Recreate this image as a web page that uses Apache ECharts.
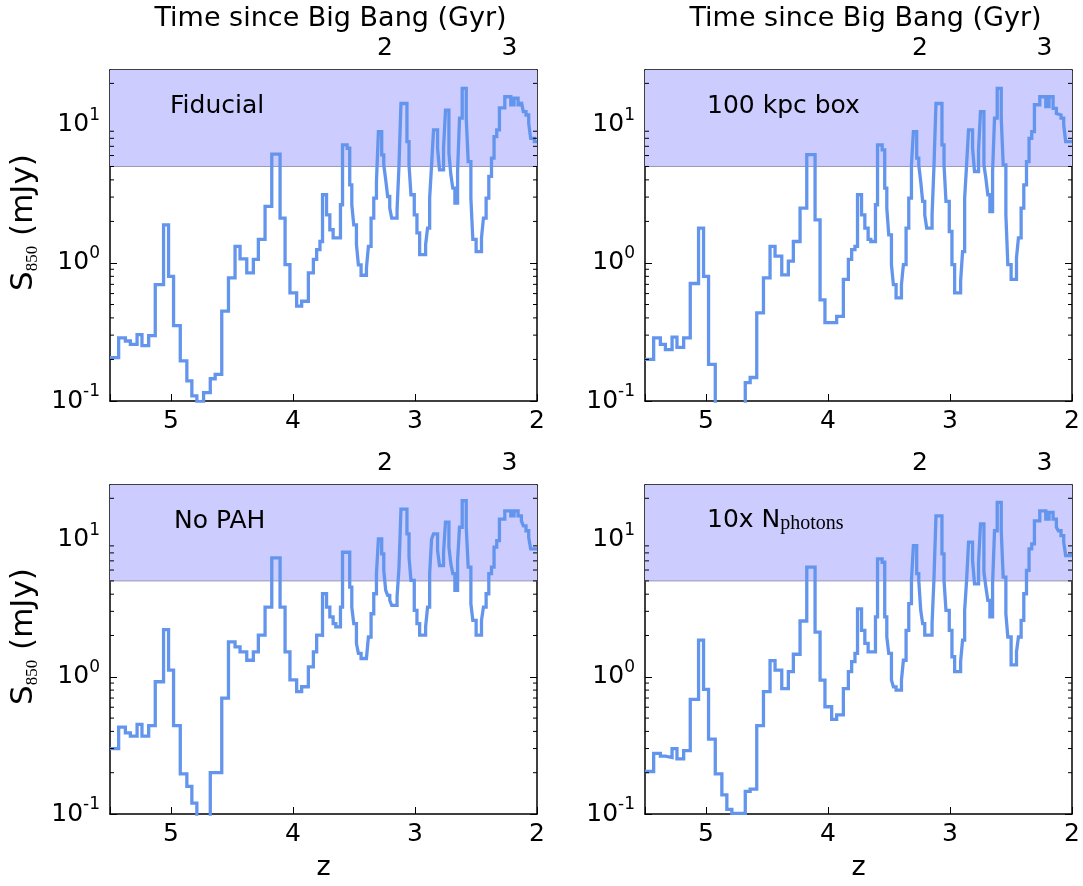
<!DOCTYPE html>
<html><head><meta charset="utf-8">
<script src="https://cdn.jsdelivr.net/npm/echarts@6/dist/echarts.min.js"></script>
<style>html,body{margin:0;padding:0;background:#fff}#c{width:1083px;height:886px}</style>
</head><body><div id="c"></div>
<script>
// ---- data ----
// start redshift of every step (bins shared by all four runs); last bin ends at zEnd
const zEdges = [5.5, 5.429, 5.374, 5.333, 5.278, 5.238, 5.183, 5.129, 5.061, 5.020,
 4.979, 4.924, 4.870, 4.829, 4.788, 4.733, 4.678, 4.638, 4.584, 4.529,
 4.475, 4.434, 4.379, 4.325, 4.284, 4.229, 4.174, 4.106, 4.065, 4.025,
 3.970, 3.929, 3.874, 3.833, 3.806, 3.779, 3.758, 3.725, 3.698, 3.671,
 3.649, 3.611, 3.594, 3.556, 3.535, 3.518, 3.502, 3.480, 3.464, 3.442,
 3.398, 3.382, 3.360, 3.338, 3.316, 3.300, 3.273, 3.256, 3.240, 3.224,
 3.207, 3.191, 3.147, 3.131, 3.115, 3.066, 3.049, 3.033, 3.006, 2.984,
 2.962, 2.913, 2.897, 2.880, 2.864, 2.848, 2.815, 2.799, 2.766, 2.750,
 2.722, 2.706, 2.690, 2.673, 2.651, 2.635, 2.613, 2.580, 2.564, 2.542,
 2.526, 2.499, 2.455, 2.439, 2.417, 2.395, 2.373, 2.352, 2.330, 2.308,
 2.264, 2.215, 2.188, 2.155, 2.128, 2.112, 2.090, 2.068, 2.052, 2.022];
const zEnd = 2.0;

const fiducial = [0.206, 0.287, 0.272, 0.257, 0.303, 0.252, 0.298, 0.697, 1.89, 0.80,
 0.352, 0.195, 0.140, 0.109, 0.099, 0.115, 0.145, 0.156, 0.448, 0.78,
 1.32, 1.07, 0.847, 1.06, 1.48, 2.57, 6.14, 2.11, 0.973, 0.607,
 0.486, 0.528, 0.847, 1.06, 1.25, 1.43, 3.12, 2.23, 1.74, 1.52,
 1.52, 2.64, 7.17, 6.78, 3.68, 2.64, 1.89, 1.36, 0.97, 0.815,
 0.92, 1.32, 2.11, 2.95, 3.89, 8.95, 6.07, 5.14, 4.0, 3.03,
 2.5, 2.11, 2.43, 5.14, 14.3, 7.58, 5.14, 3.12, 2.23, 1.65,
 1.15, 1.36, 1.79, 2.95, 5.14, 9.2, 6.78, 4.73, 6.78, 12.8,
 6.24, 4.35, 3.48, 2.72, 4.6, 11.2, 18.4, 11.2, 5.43, 2.95,
 1.48, 1.21, 1.52, 2.11, 2.95, 4.24, 5.74, 8.24, 9.2, 13.3,
 16.0, 14.0, 15.6, 14.0, 14.7, 12.5, 11.8, 10.3, 8.0, 7.58];

const box100kpc = [0.2, 0.287, 0.257, 0.236, 0.29, 0.245, 0.287, 0.71, 1.79, 0.80,
 0.184, 0.05, 0.05, 0.05, 0.05, 0.05, 0.136, 0.148, 0.435, 0.78,
 1.32, 1.12, 0.82, 1.03, 1.43, 2.5, 6.1, 2.05, 0.54, 0.37,
 0.37, 0.41, 0.76, 1.06, 1.25, 1.32, 3.12, 2.23, 1.79, 1.48,
 1.43, 2.64, 7.17, 6.59, 3.48, 2.5, 1.60, 0.973, 0.697, 0.558,
 0.697, 0.973, 1.79, 2.95, 5.14, 8.95, 5.74, 5.14, 3.89, 2.79,
 2.23, 1.79, 2.23, 5.14, 14.3, 7.17, 5.14, 2.79, 1.69, 0.973,
 0.607, 0.736, 1.21, 2.95, 5.14, 9.2, 6.78, 4.6, 6.59, 12.5,
 5.14, 4.11, 3.12, 2.36, 4.6, 11.2, 18.4, 11.2, 5.14, 2.23,
 0.973, 0.76, 1.09, 1.52, 2.5, 3.68, 5.43, 8.0, 8.95, 14.0,
 16.0, 13.6, 16.0, 13.2, 12.1, 11.8, 11.2, 10.0, 7.58, 7.58];

const noPAH = [0.30, 0.43, 0.39, 0.37, 0.45, 0.37, 0.44, 0.92, 2.21, 1.12,
 0.44, 0.196, 0.159, 0.12, 0.08, 0.08, 0.2, 0.2, 0.70, 1.80,
 1.65, 1.52, 1.32, 1.52, 2.01, 3.22, 7.36, 3.22, 1.52, 0.95,
 0.78, 0.846, 1.18, 1.52, 2.01, 2.0, 4.03, 3.22, 2.73, 2.44,
 2.31, 3.22, 8.09, 8.09, 4.51, 3.22, 2.44, 1.75, 1.48, 1.36,
 1.36, 1.95, 2.88, 4.03, 5.64, 10.1, 7.87, 5.96, 4.27, 3.92,
 3.61, 3.32, 3.81, 6.29, 16.7, 11.0, 7.44, 5.04, 3.05, 2.44,
 2.01, 2.31, 3.22, 5.64, 10.1, 11.0, 8.32, 6.47, 8.09, 13.4,
 8.80, 6.65, 5.64, 4.27, 7.03, 12.3, 19.2, 12.3, 6.29, 3.41,
 2.58, 2.01, 2.58, 3.22, 4.03, 5.64, 6.29, 8.80, 9.84, 14.1,
 16.2, 14.9, 16.2, 14.9, 13.7, 12.6, 11.6, 10.4, 8.55, 8.55];

const photons10x = [0.204, 0.277, 0.264, 0.258, 0.30, 0.252, 0.29, 0.684, 1.85, 0.81,
 0.351, 0.196, 0.138, 0.108, 0.101, 0.101, 0.146, 0.152, 0.44, 0.78,
 1.31, 1.12, 0.82, 1.09, 1.46, 2.55, 6.3, 2.12, 0.946, 0.605,
 0.49, 0.527, 0.82, 1.09, 1.29, 1.48, 3.13, 2.18, 1.75, 1.52,
 1.52, 2.73, 7.24, 6.84, 2.73, 1.95, 1.48, 0.946, 0.845, 0.80,
 0.946, 1.32, 2.18, 3.41, 5.04, 9.04, 5.64, 5.04, 3.05, 2.44,
 2.01, 2.01, 2.44, 5.32, 14.9, 7.87, 5.04, 3.05, 2.18, 1.40,
 1.09, 1.29, 1.85, 3.05, 5.04, 9.57, 7.03, 4.76, 6.84, 13.0,
 5.80, 4.51, 3.61, 2.73, 4.76, 11.6, 18.7, 11.6, 5.32, 2.88,
 1.95, 1.22, 1.52, 1.95, 2.58, 4.03, 5.96, 8.55, 9.31, 13.7,
 16.2, 14.1, 15.8, 14.1, 12.3, 11.6, 10.7, 9.57, 7.65, 7.65];

const panelLabels = ['Fiducial', '100 kpc box', 'No PAH', '{a|10x N}{b|photons}'];
const panelSeries = [fiducial, box100kpc, noPAH, photons10x];
const zTickLabels = [5, 4, 3, 2];
const zMin = 2, zMax = 5.5;
const yMin = 0.1, yMax = 25;
const yMinorTicks = [0.2, 0.3, 0.4, 0.5, 0.6, 0.7, 0.8, 0.9, 2, 3, 4, 5, 6, 7, 8, 9, 20];
const threshold = 5;                 // mJy, shaded detection band
const timeMajorGyr = [2, 3];
const timeMinorGyr = [1.75, 2.25, 2.5, 2.75, 3.25];
const cosmo = { H0: 70, Om: 0.28 };  // flat LCDM for the top time axis

// ---- top time axis: redshift at a given cosmic age ----
function zAtAge(tGyr) {
  const H0 = cosmo.H0 / 977.79, OL = 1 - cosmo.Om;
  const x = Math.sinh(tGyr * 1.5 * H0 * Math.sqrt(OL)) / Math.sqrt(OL / cosmo.Om);
  return Math.pow(x, -2 / 3) - 1;
}
const timeMajorZ = timeMajorGyr.map(zAtAge);
const timeMinorZ = timeMinorGyr.map(zAtAge);

const FONT = 'DejaVu Sans';
const grids = [
  { left: 110, top: 70, width: 427, height: 331 },
  { left: 645, top: 70, width: 427, height: 331 },
  { left: 110, top: 485, width: 427, height: 329 },
  { left: 645, top: 485, width: 427, height: 329 }
];
const labelPos = [[170, 94], [707, 94], [174, 509], [707, 508]];

const frame = { show: true, onZero: false, lineStyle: { color: '#000', width: 1.5 } };
const xAxes = [], yAxes = [], series = [], titles = [];

grids.forEach((g, i) => {
  const isTop = i < 2, isLeft = i % 2 === 0;
  xAxes.push({
    gridIndex: i, type: 'value', position: 'bottom', min: zMin, max: zMax, interval: 1, inverse: true,
    axisLine: frame, splitLine: { show: false },
    axisTick: { inside: true, length: 7, lineStyle: { color: '#000', width: 1 } },
    axisLabel: { color: '#000', fontFamily: FONT, fontSize: 25, margin: 8,
      formatter: v => zTickLabels.includes(v) ? String(v) : '' },
    name: isTop ? '' : 'z', nameLocation: 'middle', nameGap: 40,
    nameTextStyle: { color: '#000', fontFamily: FONT, fontSize: 27 }
  });
  xAxes.push({
    gridIndex: i, type: 'value', position: 'top', min: zMin, max: zMax, inverse: true, offset: 0,
    axisLine: frame, splitLine: { show: false },
    axisTick: { inside: true, length: 7, customValues: timeMajorZ, lineStyle: { color: '#000', width: 1 } },
    axisLabel: { color: '#000', fontFamily: FONT, fontSize: 25, margin: 9, customValues: timeMajorZ,
      formatter: v => { const k = timeMajorZ.findIndex(z => Math.abs(z - v) < 1e-6); return k >= 0 ? String(timeMajorGyr[k]) : ''; } },
    name: isTop ? 'Time since Big Bang (Gyr)' : '', nameLocation: 'middle', nameGap: 38,
    nameTextStyle: { color: '#000', fontFamily: FONT, fontSize: 27, padding: [0, 0, 0, 14] }
  });
  xAxes.push({
    gridIndex: i, type: 'value', position: 'top', min: zMin, max: zMax, inverse: true, offset: 0,
    axisLine: { show: false, onZero: false }, splitLine: { show: false },
    axisTick: { inside: true, length: 4, customValues: timeMinorZ, lineStyle: { color: '#000', width: 1 } },
    axisLabel: { show: false }
  });
  yAxes.push({
    gridIndex: i, type: 'log', logBase: 10, min: yMin, max: yMax, position: 'left',
    axisLine: frame, splitLine: { show: false },
    axisTick: { inside: true, length: 7, lineStyle: { color: '#000', width: 1 } },
    axisLabel: { margin: 10, color: '#000',
      formatter: v => { const e = Math.log10(v), r = Math.round(e); return Math.abs(e - r) < 1e-6 ? '{b|10}{s|' + r + '}' : ''; },
      rich: { b: { fontFamily: FONT, fontSize: 25, lineHeight: 36, color: '#000' },
              s: { fontFamily: FONT, fontSize: 17, lineHeight: 18, verticalAlign: 'top', color: '#000' } } },
    name: isLeft ? '{s|S}{sub|850}{t| (mJy)}' : '', nameLocation: 'middle', nameGap: 69,
    nameTextStyle: { padding: [0, 0, 0, 26], rich: {
      s: { fontFamily: FONT, fontSize: 31, lineHeight: 34, color: '#000' },
      sub: { fontFamily: 'Liberation Serif', fontSize: 17, lineHeight: 17, verticalAlign: 'bottom', color: '#000' },
      t: { fontFamily: FONT, fontSize: 31, lineHeight: 34, color: '#000' } } }
  });
  yAxes.push({
    gridIndex: i, type: 'log', logBase: 10, min: yMin, max: yMax, position: 'right',
    axisLine: frame, splitLine: { show: false },
    axisTick: { inside: true, length: 7, lineStyle: { color: '#000', width: 1 } },
    axisLabel: { show: false }
  });

  // shaded band above threshold and its lower edge
  series.push({
    type: 'line', xAxisIndex: 3 * i, yAxisIndex: 2 * i, z: 1, silent: true, symbol: 'none',
    data: [[zMax, threshold], [zMin, threshold]],
    lineStyle: { color: '#9a9ab8', width: 1 },
    markArea: { silent: true, itemStyle: { color: '#ccccff' }, data: [[{ yAxis: threshold }, { yAxis: yMax }]] }
  });
  // the step curve
  const vals = panelSeries[i];
  const pts = zEdges.map((z, k) => [z, vals[k]]);
  pts.push([zEnd, vals[vals.length - 1]]);
  series.push({
    type: 'line', xAxisIndex: 3 * i, yAxisIndex: 2 * i, z: 3, step: 'end', symbol: 'none',
    clip: true, data: pts, lineStyle: { color: '#6495ed', width: 3.3, join: 'miter' }
  });
  // minor log ticks on both sides
  series.push({
    type: 'custom', xAxisIndex: 3 * i, yAxisIndex: 2 * i, z: 4, silent: true,
    data: yMinorTicks.map(v => [zMax, v]),
    renderItem: (params, api) => {
      const v = api.value(1);
      const pL = api.coord([zMax, v]), pR = api.coord([zMin, v]);
      return { type: 'group', children: [
        { type: 'line', shape: { x1: pL[0], y1: pL[1], x2: pL[0] + 4, y2: pL[1] }, style: { stroke: '#000', lineWidth: 1 } },
        { type: 'line', shape: { x1: pR[0], y1: pR[1], x2: pR[0] - 4, y2: pR[1] }, style: { stroke: '#000', lineWidth: 1 } }
      ] };
    }
  });
  titles.push({
    text: panelLabels[i], left: labelPos[i][0], top: labelPos[i][1], padding: 0,
    textStyle: { fontFamily: FONT, fontSize: 25, fontWeight: 'normal', color: '#000',
      rich: { a: { fontFamily: FONT, fontSize: 25, lineHeight: 26, verticalAlign: 'top', color: '#000' },
              b: { fontFamily: 'Liberation Serif', fontSize: 20, lineHeight: 20, verticalAlign: 'bottom',
                   padding: [10, 0, 0, 0], color: '#000' } } }
  });
});

const chart = echarts.init(document.getElementById('c'), null, { renderer: 'canvas' });
chart.setOption({
  animation: false,
  backgroundColor: '#fff',
  textStyle: { fontFamily: FONT },
  title: titles,
  grid: grids,
  xAxis: xAxes,
  yAxis: yAxes,
  series: series
});
</script>
</body></html>
